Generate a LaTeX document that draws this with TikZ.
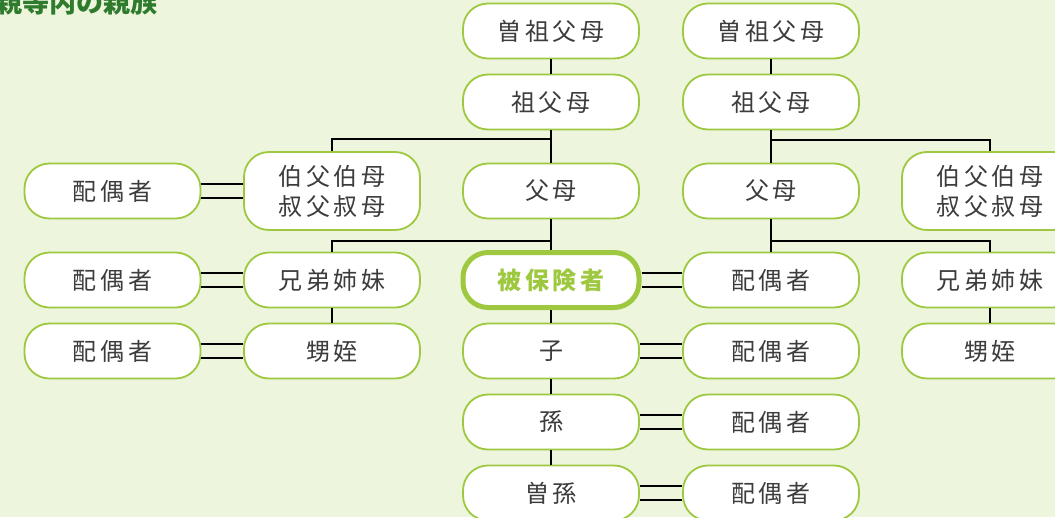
\documentclass[tikz,border=0pt]{standalone}
\usepackage{fontspec}
\newfontfamily\jp[LetterSpace=16]{Noto Sans CJK JP}
\newfontfamily\jptitle{Noto Sans CJK JP}
\definecolor{bgfill}{HTML}{EDF5DC}
\definecolor{kingreen}{HTML}{9DC840}
\definecolor{titlegreen}{HTML}{2E7B2E}
\definecolor{kingray}{HTML}{3C3C3C}

\begin{document}
\begin{tikzpicture}[x=1pt,y=-1pt]
    \tikzstyle{kin}=[draw=kingreen, line width=1.8pt, fill=white, rounded corners=25pt, minimum width=176pt, minimum height=55pt, inner sep=0pt, align=center, text=kingray, font=\jp\fontsize{24}{30}\selectfont]
    \tikzstyle{self}=[kin, line width=5pt, text=kingreen, font=\jp\bfseries\fontsize{24}{30}\selectfont]
    \tikzstyle{tie}=[draw=black, line width=1.3pt]
    \fill [bgfill] (0,0) rectangle (1055,517);
    \useasboundingbox (0,0) rectangle (1055,517);
    \node (ttl) [anchor=base east, inner sep=0pt, text=titlegreen, font=\jptitle\bfseries\fontsize{27}{27}\selectfont] at (158,12) {親等内の親族};
    \node [kin] (sobC) at (551,31) {曽祖父母};
    \node [kin] (sofC) at (551,102) {祖父母};
    \node [kin] (fbC) at (551,191) {父母};
    \node [self] (hi) at (551,280) {被保険者};
    \node [kin] (ko) at (551,351) {子};
    \node [kin] (mago) at (551,422) {孫};
    \node [kin] (himago) at (551,493) {曽孫};
    \node [kin] (sobD) at (771,31) {曽祖父母};
    \node [kin] (sofD) at (771,102) {祖父母};
    \node [kin] (fbD) at (771,191) {父母};
    \node [kin] (hsD) at (771,280) {配偶者};
    \node [kin] (ksD) at (771,351) {配偶者};
    \node [kin] (msD) at (771,422) {配偶者};
    \node [kin] (hmsD) at (771,493) {配偶者};
    \node [kin, minimum height=78pt] (ojB) at (332,191) {伯父伯母\\叔父叔母};
    \node [kin] (kyB) at (332,280) {兄弟姉妹};
    \node [kin] (oiB) at (332,351) {甥姪};
    \node [kin] (ojsA) at (112.5,191) {配偶者};
    \node [kin] (kysA) at (112.5,280) {配偶者};
    \node [kin] (oisA) at (112.5,351) {配偶者};
    \node [kin, minimum height=78pt] (ojE) at (990,191) {伯父伯母\\叔父叔母};
    \node [kin] (kyE) at (990,280) {兄弟姉妹};
    \node [kin] (oiE) at (990,351) {甥姪};
    \coordinate (jCt) at (551,139);
    \coordinate (jCm) at (551,241);
    \coordinate (jDt) at (771,140);
    \coordinate (jDm) at (771,241);
    \draw [tie] (sobC.south) -- (sofC.north);
    \draw [tie] (sofC.south) -- (fbC.north);
    \draw [tie] (fbC.south) -- (hi.north);
    \draw [tie] (hi.south) -- (ko.north);
    \draw [tie] (ko.south) -- (mago.north);
    \draw [tie] (mago.south) -- (himago.north);
    \draw [tie] (sobD.south) -- (sofD.north);
    \draw [tie] (sofD.south) -- (fbD.north);
    \draw [tie] (fbD.south) -- (hsD.north);
    \draw [tie] (jCt) -| (ojB.north);
    \draw [tie] (jCm) -| (kyB.north);
    \draw [tie] (jDt) -| (ojE.north);
    \draw [tie] (jDm) -| (kyE.north);
    \draw [tie] (kyB.south) -- (oiB.north);
    \draw [tie] (kyE.south) -- (oiE.north);
    \foreach \a/\b in {ojsA/ojB, kysA/kyB, oisA/oiB, hi/hsD, ko/ksD, mago/msD, himago/hmsD} {
        \draw [tie] ([yshift=7pt]\a.east) -- ([yshift=7pt]\b.west);
        \draw [tie] ([yshift=-7pt]\a.east) -- ([yshift=-7pt]\b.west);
    }
\end{tikzpicture}
\end{document}
